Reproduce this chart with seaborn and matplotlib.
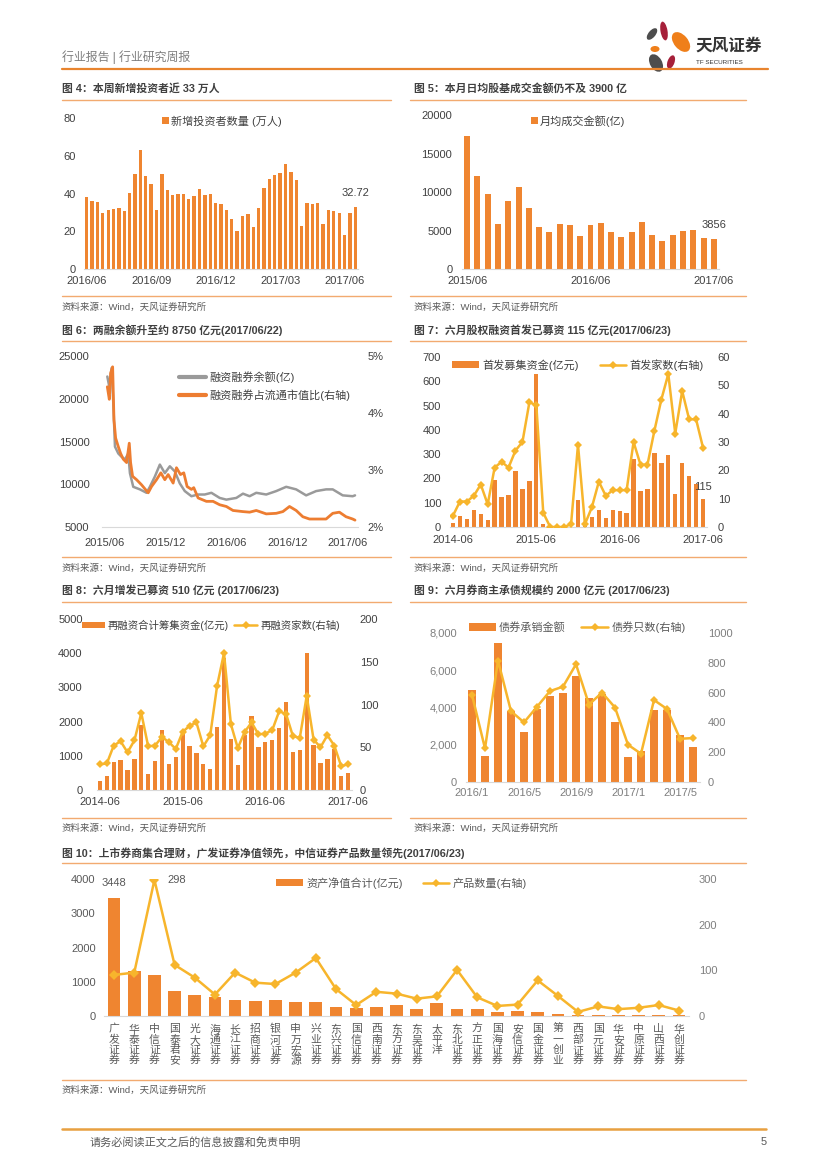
import numpy as np
import pandas as pd
import matplotlib
matplotlib.use("Agg")
import matplotlib.pyplot as plt
import seaborn as sns
from matplotlib.patches import Patch, Ellipse
from matplotlib.lines import Line2D
from matplotlib.ticker import FuncFormatter

# ---------------- data ----------------
# 图4 新增投资者数量(万人), weekly
inv_ticks = ["2016/06", "2016/09", "2016/12", "2017/03", "2017/06"]
inv_new = [38, 36, 35.5, 29.5, 31.5, 32, 32.5, 30.5, 40.5, 50.5,
           63, 49.5, 45, 31.5, 50.5, 42, 39, 40, 40, 37,
           38.5, 42.5, 39, 40, 35, 34.5, 31, 26.5, 20, 28,
           29, 22, 32.5, 43, 47.5, 50, 51, 55.5, 51.5, 47,
           23, 35, 34.5, 35, 24, 31, 30.5, 29.5, 18, 29.5, 32.72]

# 图5 月均成交金额(亿)
to_ticks = ["2015/06", "2016/06", "2017/06"]
turnover = [17300, 12100, 9700, 5800, 8800, 10600, 7900, 5400, 4800, 5800,
            5700, 4300, 5700, 6000, 4800, 4100, 4800, 6100, 4400, 3700,
            4400, 5000, 5100, 4000, 3856]

# 图6 两融余额 / 占流通市值比
mt_dates = ["2015-06-08", "2015-06-14", "2015-06-21", "2015-06-26", "2015-07-01",
            "2015-07-11", "2015-07-21", "2015-07-31", "2015-08-10", "2015-08-15",
            "2015-08-25", "2015-09-14", "2015-10-04", "2015-10-14", "2015-10-29",
            "2015-11-13", "2015-11-28", "2015-12-13", "2015-12-28", "2016-01-12",
            "2016-01-27", "2016-02-16", "2016-03-07", "2016-03-27", "2016-04-16",
            "2016-05-11", "2016-05-31", "2016-06-30", "2016-07-20", "2016-08-09",
            "2016-08-29", "2016-09-28", "2016-10-28", "2016-11-27", "2016-12-27",
            "2017-01-26", "2017-02-25", "2017-03-27", "2017-04-16", "2017-05-16",
            "2017-06-15", "2017-06-22"]
mt_bal = [22600, 21400, 23600, 19500, 14400, 13600, 13200, 12900, 13600, 11300,
          9700, 9400, 9000, 9700, 10900, 12300, 11300, 12100, 11500, 10100,
          9200, 8600, 8800, 8800, 9000, 8400, 8200, 8400, 8900, 8600,
          9000, 8800, 9200, 9700, 9400, 8700, 9200, 9400, 9400, 8700,
          8600, 8700]
mp_dates = ["2015-06-08", "2015-06-14", "2015-06-18", "2015-06-24", "2015-06-28",
            "2015-07-03", "2015-07-11", "2015-07-18", "2015-07-26", "2015-08-05",
            "2015-08-13", "2015-08-17", "2015-08-23", "2015-09-04", "2015-09-19",
            "2015-10-09", "2015-10-19", "2015-11-03", "2015-11-16", "2015-11-28",
            "2015-12-08", "2015-12-23", "2016-01-02", "2016-01-14", "2016-01-24",
            "2016-02-03", "2016-02-16", "2016-02-23", "2016-03-07", "2016-04-01",
            "2016-04-21", "2016-05-11", "2016-05-31", "2016-06-20", "2016-07-20",
            "2016-08-09", "2016-08-29", "2016-09-28", "2016-10-28", "2016-11-17",
            "2016-12-07", "2016-12-27", "2017-01-16", "2017-02-05", "2017-02-25",
            "2017-03-27", "2017-04-16", "2017-05-06", "2017-05-26", "2017-06-15",
            "2017-06-22"]
mp_pct = [4.46, 4.24, 4.70, 4.81, 3.88, 3.56, 3.41, 3.29, 3.19, 3.13,
          3.47, 3.13, 2.89, 2.83, 2.74, 2.60, 2.71, 2.83, 2.95, 2.83,
          2.92, 2.77, 3.04, 2.92, 2.95, 2.71, 2.66, 2.69, 2.51, 2.45,
          2.45, 2.39, 2.36, 2.29, 2.27, 2.26, 2.29, 2.23, 2.24, 2.27,
          2.36, 2.29, 2.18, 2.14, 2.14, 2.14, 2.24, 2.26, 2.18, 2.14, 2.12]
mt_ticks = ["2015-06-01", "2015-12-01", "2016-06-01", "2016-12-01", "2017-06-01"]
mt_ticklabels = ["2015/06", "2015/12", "2016/06", "2016/12", "2017/06"]

# 图7 首发, 图8 再融资 (monthly 2014-06 .. 2017-06)
month_ticks = ["2014-06", "2015-06", "2016-06", "2017-06"]
ipo_amt = [15, 45, 35, 70, 55, 30, 195, 122, 132, 230,
           155, 188, 630, 12, 0, 0, 0, 0, 110, 5,
           40, 70, 38, 70, 65, 57, 278, 150, 155, 305,
           265, 298, 135, 262, 208, 178, 115]
ipo_cnt = [4, 9, 9, 11, 15, 8, 21, 23, 21, 27,
           30, 44, 43, 5, 0, 0, 0, 1, 29, 1,
           7, 16, 11, 13, 13, 13, 30, 22, 22, 34,
           45, 54, 33, 48, 38, 38, 28]
refi_amt = [250, 420, 820, 880, 580, 920, 1900, 480, 850, 1750,
            750, 960, 1650, 1300, 1080, 760, 600, 1830, 3850, 1480,
            720, 1600, 2150, 1270, 1400, 1470, 1800, 2580, 1120, 1160,
            4000, 1330, 800, 900, 1200, 420, 510]
refi_cnt = [30, 31, 52, 57, 44, 58, 90, 51, 52, 62,
            56, 48, 68, 75, 79, 51, 64, 122, 160, 77,
            49, 68, 79, 65, 66, 70, 92, 89, 63, 61,
            110, 59, 50, 64, 52, 28, 30]

# 图9 债券承销 (2016/1 .. 2017/6)
bond_ticks = ["2016/1", "2016/5", "2016/9", "2017/1", "2017/5"]
bond_amt = [4950, 1380, 7450, 3800, 2700, 3900, 4600, 4800, 5700, 4500,
            4750, 3200, 1320, 1650, 3850, 3850, 2500, 1900]
bond_cnt = [585, 225, 815, 475, 400, 505, 610, 640, 790, 520,
            600, 500, 250, 190, 550, 490, 290, 295]

# 图10 集合理财
brokers = ["广发证券", "华泰证券", "中信证券", "国泰君安", "光大证券", "海通证券",
           "长江证券", "招商证券", "银河证券", "申万宏源", "兴业证券", "东兴证券",
           "国信证券", "西南证券", "东方证券", "东吴证券", "太平洋", "东北证券",
           "方正证券", "国海证券", "安信证券", "国金证券", "第一创业", "西部证券",
           "国元证券", "华安证券", "中原证券", "山西证券", "华创证券"]
am_nav = [3448, 1300, 1200, 720, 610, 560, 470, 430, 460, 400,
          400, 270, 220, 270, 330, 215, 370, 215, 195, 118,
          137, 108, 59, 30, 40, 40, 40, 20, 20]
am_cnt = [90, 95, 298, 112, 84, 47, 95, 73, 70, 95,
          127, 59, 24, 53, 49, 38, 43, 101, 41, 22,
          25, 78, 44, 9, 21, 15, 18, 24, 12]

# ---------------- style ----------------
sns.set_theme(style="white")
plt.rcParams["font.family"] = ["Liberation Sans", "Noto Sans CJK SC", "DejaVu Sans"]
plt.rcParams["axes.unicode_minus"] = False

BAR = "#EF8530"
GOLD = "#F7B52C"
GRAY = "#9A9A9A"
ORANGE = "#ED7D31"
RULE = "#F2AA70"
DARK = "#404040"
MID = "#7F7F7F"
FS = 8

W, H = 827, 1169
fig = plt.figure(figsize=(8.27, 11.69), dpi=100)
fig.patch.set_facecolor("white")


def box(l, t, r, b):
    return [l / W, 1 - b / H, (r - l) / W, (b - t) / H]


def ftext(x, y, s, **kw):
    kw.setdefault("va", "center")
    fig.text(x / W, 1 - y / H, s, **kw)


def hline(x0, x1, y, color=RULE, lw=1.0):
    fig.add_artist(Line2D([x0 / W, x1 / W], [1 - y / H, 1 - y / H],
                          color=color, lw=lw, transform=fig.transFigure))


def style(ax, color=DARK, ypad=5, xpad=5):
    for s in ax.spines.values():
        s.set_visible(False)
    ax.spines["bottom"].set_visible(True)
    ax.spines["bottom"].set_color("#D9D9D9")
    ax.spines["bottom"].set_linewidth(0.8)
    ax.tick_params(axis="both", length=0, labelsize=FS, colors=color)
    ax.tick_params(axis="y", pad=ypad)
    ax.tick_params(axis="x", pad=xpad)
    ax.set_xlabel("")
    ax.set_ylabel("")
    ax.grid(False)
    ax.set_facecolor("none")


def style_twin(ax2, color=DARK, pad=7):
    for s in ax2.spines.values():
        s.set_visible(False)
    ax2.tick_params(axis="y", length=0, labelsize=FS, colors=color, pad=pad)
    ax2.set_ylabel("")
    ax2.grid(False)


def bars(ax, vals, width):
    df = pd.DataFrame({"pos": np.arange(len(vals)), "v": vals})
    sns.barplot(data=df, x="pos", y="v", ax=ax, color=BAR, width=width,
                saturation=1, errorbar=None, edgecolor="none", linewidth=0)


def line(ax2, vals, ms=4.5):
    sns.lineplot(x=np.arange(len(vals)), y=vals, ax=ax2, color=GOLD, lw=1.8,
                 marker="D", markersize=ms, markeredgewidth=0)


def legend2(ax, labels, x, y, colsp, color=DARK, fs=FS, hl=2.4):
    handles = [Patch(facecolor=BAR, edgecolor="none"),
               Line2D([], [], color=GOLD, lw=1.8, marker="D", markersize=4.5,
                      markeredgewidth=0)]
    ax.legend(handles, labels, loc="center left",
              bbox_to_anchor=(x / W, 1 - y / H), bbox_transform=fig.transFigure,
              ncol=2, frameon=False, fontsize=fs, handlelength=hl,
              handleheight=0.6, handletextpad=0.3, columnspacing=colsp,
              borderpad=0, borderaxespad=0, labelcolor=color)


def source(x, y):
    ftext(x, y, "资料来源：Wind，天风证券研究所", fontsize=6.8, color="#595959")


# ---------------- header / footer ----------------
ftext(62, 57, "行业报告 | 行业研究周报", fontsize=8.6, color=MID)
hline(62, 768, 69, color="#E8842E", lw=1.6)

lg = fig.add_axes(box(640, 20, 695, 75))
lg.set_xlim(640, 695)
lg.set_ylim(75, 20)
lg.axis("off")
for (cx, cy, w, h, a, c) in [(652, 34, 7, 14, 40, "#4D4D4D"),
                             (664, 31, 7, 19, -10, "#A6203A"),
                             (681, 42, 14, 23, -40, "#EF7F1A"),
                             (655, 49, 9, 6, 0, "#EF7F1A"),
                             (656, 63, 12, 19, -30, "#4D4D4D"),
                             (671, 62, 7, 14, 20, "#A6203A")]:
    lg.add_patch(Ellipse((cx, cy), w, h, angle=a, color=c, lw=0))
ftext(695, 46, "天风证券", fontsize=12, fontweight="bold", color="#333333")
ftext(696, 63, "TF SECURITIES", fontsize=4.5, color="#333333")

hline(62, 766, 1129, color="#E8A040", lw=1.8)
ftext(90, 1142, "请务必阅读正文之后的信息披露和免责申明", fontsize=8, color="#595959")
ftext(761, 1142, "5", fontsize=8, color="#595959")

# ---------------- titles and rules ----------------
TT = dict(fontsize=7.8, fontweight="bold", color=DARK)
ftext(62, 88, "图 4：本周新增投资者近 33 万人", **TT)
ftext(414, 88, "图 5：本月日均股基成交金额仍不及 3900 亿", **TT)
ftext(62, 330, "图 6：两融余额升至约 8750 亿元(2017/06/22)", **TT)
ftext(414, 330, "图 7：六月股权融资首发已募资 115 亿元(2017/06/23)", **TT)
ftext(62, 590, "图 8：六月增发已募资 510 亿元 (2017/06/23)", **TT)
ftext(414, 590, "图 9：六月券商主承债规模约 2000 亿元 (2017/06/23)", **TT)
ftext(62, 853, "图 10：上市券商集合理财，广发证券净值领先，中信证券产品数量领先(2017/06/23)", **TT)

for y in (100, 341, 602):
    hline(62, 391, y)
    hline(410, 746, y)
for y in (296, 557, 818):
    hline(62, 391, y)
    hline(410, 746, y)
hline(62, 746, 863)
hline(62, 746, 1080)
for y in (307, 568, 828):
    source(62, y)
    source(414, y)
source(62, 1090)

# ---------------- 图4 ----------------
ax = fig.add_axes(box(84, 118, 358, 269))
bars(ax, inv_new, 0.62)
style(ax, ypad=6, xpad=5)
ax.set_ylim(0, 80)
ax.set_yticks([0, 20, 40, 60, 80])
ax.set_xlim(-0.5, len(inv_new) - 0.5)
ax.set_xticks([0, 12, 24, 36, 48])
ax.set_xticklabels(inv_ticks)
ax.annotate("32.72", xy=(len(inv_new) - 1, inv_new[-1]), xytext=(0, 10),
            textcoords="offset points", ha="center", va="center",
            fontsize=FS, color=DARK)
ax.legend([Patch(facecolor=BAR, edgecolor="none")], ["新增投资者数量 (万人)"],
          loc="center left", bbox_to_anchor=(162 / W, 1 - 121 / H),
          bbox_transform=fig.transFigure, frameon=False, fontsize=FS,
          handlelength=0.6, handleheight=0.6, handletextpad=0.2,
          borderpad=0, borderaxespad=0, labelcolor=DARK)

# ---------------- 图5 ----------------
ax = fig.add_axes(box(462, 115, 719, 269))
bars(ax, turnover, 0.58)
style(ax, ypad=7, xpad=5)
ax.set_ylim(0, 20000)
ax.set_yticks([0, 5000, 10000, 15000, 20000])
ax.set_xlim(-0.5, len(turnover) - 0.5)
ax.set_xticks([0, 12, 24])
ax.set_xticklabels(to_ticks)
ax.annotate("3856", xy=(len(turnover) - 1, turnover[-1]), xytext=(0, 10),
            textcoords="offset points", ha="center", va="center",
            fontsize=FS, color=DARK)
ax.legend([Patch(facecolor=BAR, edgecolor="none")], ["月均成交金额(亿)"],
          loc="center left", bbox_to_anchor=(531 / W, 1 - 121 / H),
          bbox_transform=fig.transFigure, frameon=False, fontsize=FS,
          handlelength=0.6, handleheight=0.6, handletextpad=0.2,
          borderpad=0, borderaxespad=0, labelcolor=DARK)

# ---------------- 图6 ----------------
ax = fig.add_axes(box(102, 356, 358, 527))
sns.lineplot(x=pd.to_datetime(mt_dates), y=mt_bal, ax=ax, color=GRAY, lw=1.8)
style(ax, ypad=9, xpad=8)
ax.set_ylim(5000, 25000)
ax.set_yticks([5000, 10000, 15000, 20000, 25000])
ax2 = ax.twinx()
sns.lineplot(x=pd.to_datetime(mp_dates), y=mp_pct, ax=ax2, color=ORANGE, lw=2.0)
style_twin(ax2, pad=7)
ax2.set_ylim(2, 5)
ax2.set_yticks([2, 3, 4, 5])
ax2.yaxis.set_major_formatter(FuncFormatter(lambda v, p: f"{v:.0f}%"))
ax.set_xlim(pd.Timestamp("2015-05-23"), pd.Timestamp("2017-07-01"))
ax.set_xticks(pd.to_datetime(mt_ticks))
ax.set_xticklabels(mt_ticklabels)
ax2.legend([Line2D([], [], color=GRAY, lw=3), Line2D([], [], color=ORANGE, lw=3)],
           ["融资融券余额(亿)", "融资融券占流通市值比(右轴)"],
           loc="upper left", bbox_to_anchor=(179 / W, 1 - 371 / H),
           bbox_transform=fig.transFigure, frameon=False, fontsize=FS,
           handlelength=2.4, handletextpad=0.3, labelspacing=0.6,
           borderpad=0, borderaxespad=0, labelcolor=DARK)

# ---------------- 图7 ----------------
ax = fig.add_axes(box(449.5, 357, 706.5, 527))
bars(ax, ipo_amt, 0.62)
style(ax, ypad=6, xpad=6)
ax.set_ylim(0, 700)
ax.set_yticks(range(0, 701, 100))
ax2 = ax.twinx()
line(ax2, ipo_cnt)
style_twin(ax2, pad=8)
ax2.set_ylim(0, 60)
ax2.set_yticks(range(0, 61, 10))
ax.set_xlim(-0.5, len(ipo_amt) - 0.5)
ax.set_xticks([0, 12, 24, 36])
ax.set_xticklabels(month_ticks)
ax.annotate("115", xy=(len(ipo_amt) - 1, ipo_amt[-1]), xytext=(0, 9),
            textcoords="offset points", ha="center", va="center",
            fontsize=FS, color=DARK)
legend2(ax2, ["首发募集资金(亿元)", "首发家数(右轴)"], 452, 365, 1.9)

# ---------------- 图8 ----------------
ax = fig.add_axes(box(96.5, 619, 351.5, 790))
bars(ax, refi_amt, 0.62)
style(ax, ypad=10, xpad=5)
ax.set_ylim(0, 5000)
ax.set_yticks(range(0, 5001, 1000))
ax2 = ax.twinx()
line(ax2, refi_cnt)
style_twin(ax2, pad=6)
ax2.set_ylim(0, 200)
ax2.set_yticks([0, 50, 100, 150, 200])
ax.set_xlim(-0.5, len(refi_amt) - 0.5)
ax.set_xticks([0, 12, 24, 36])
ax.set_xticklabels(month_ticks)
legend2(ax2, ["再融资合计筹集资金(亿元)", "再融资家数(右轴)"], 82, 625, 0.5,
        fs=7.5, hl=2.2)

# ---------------- 图9 ----------------
ax = fig.add_axes(box(465.5, 633, 699.5, 782))
bars(ax, bond_amt, 0.66)
style(ax, color=MID, ypad=6, xpad=4)
ax.set_ylim(0, 8000)
ax.set_yticks(range(0, 8001, 2000))
ax.yaxis.set_major_formatter(FuncFormatter(lambda v, p: f"{v:,.0f}"))
ax2 = ax.twinx()
line(ax2, bond_cnt)
style_twin(ax2, color=MID, pad=6)
ax2.set_ylim(0, 1000)
ax2.set_yticks(range(0, 1001, 200))
ax.set_xlim(-0.5, len(bond_amt) - 0.5)
ax.set_xticks([0, 4, 8, 12, 16])
ax.set_xticklabels(bond_ticks)
legend2(ax2, ["债券承销金额", "债券只数(右轴)"], 469, 627, 1.4, color="#595959")

# ---------------- 图10 ----------------
ax = fig.add_axes(box(104, 879, 689, 1016))
bars(ax, am_nav, 0.63)
style(ax, color="#595959", ypad=6, xpad=6)
ax.set_ylim(0, 4000)
ax.set_yticks(range(0, 4001, 1000))
ax2 = ax.twinx()
line(ax2, am_cnt, ms=5.2)
style_twin(ax2, color=MID, pad=7)
ax2.set_ylim(0, 300)
ax2.set_yticks([0, 100, 200, 300])
ax.set_xlim(-0.5, len(am_nav) - 0.5)
ax.set_xticks(range(len(brokers)))
ax.set_xticklabels(["\n".join(b) for b in brokers], linespacing=1.05,
                   va="top", fontsize=7.8)
ax.annotate(f"{am_nav[0]}", xy=(0, am_nav[0]), xytext=(0, 11),
            textcoords="offset points", ha="center", va="center",
            fontsize=FS, color="#595959")
ax2.annotate(f"{am_cnt[2]}", xy=(2, am_cnt[2]), xytext=(16, 0),
             textcoords="offset points", ha="center", va="center",
             fontsize=FS, color="#595959")
legend2(ax2, ["资产净值合计(亿元)", "产品数量(右轴)"], 276, 883, 1.8, color="#595959")

fig.savefig("out.png", dpi=100, facecolor="white")
